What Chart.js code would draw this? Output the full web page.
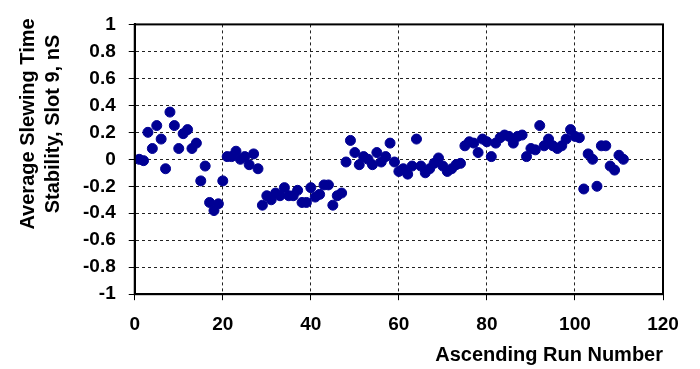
<!DOCTYPE html>
<html>
<head>
<meta charset="utf-8">
<script src="https://cdn.jsdelivr.net/npm/chart.js@4/dist/chart.umd.min.js"></script>
<style>
  body { margin: 0; background: #fff; }
  #wrap { width: 700px; height: 369px; position: relative; }
</style>
</head>
<body>
<div id="wrap"><canvas id="chart" width="700" height="369"></canvas></div>
<script>
// run number on x, stability (nS) on y
const runNumbers = [
  1, 2, 3, 4, 5, 6, 7, 8, 9, 10,
  11, 12, 13, 14, 15, 16, 17, 18, 19, 20,
  21, 22, 23, 24, 25, 26, 27, 28, 29, 30,
  31, 32, 33, 34, 35, 36, 37, 38, 39, 40,
  41, 42, 43, 44, 45, 46, 47, 48, 49, 50,
  51, 52, 53, 54, 55, 56, 57, 58, 59, 60,
  61, 62, 63, 64, 65, 66, 67, 68, 69, 70,
  71, 72, 73, 74, 75, 76, 77, 78, 79, 80,
  81, 82, 83, 84, 85, 86, 87, 88, 89, 90,
  91, 92, 93, 94, 95, 96, 97, 98, 99, 100,
  101, 102, 103, 104, 105, 106, 107, 108, 109, 110,
  111
];
const stability = [
  0, -0.01, 0.2, 0.08, 0.25, 0.15, -0.07, 0.35, 0.25, 0.08,
  0.19, 0.22, 0.08, 0.12, -0.16, -0.05, -0.32, -0.38, -0.33, -0.16,
  0.02, 0.02, 0.06, 0, 0.02, -0.04, 0.04, -0.07, -0.34, -0.27,
  -0.3, -0.25, -0.27, -0.21, -0.27, -0.27, -0.23, -0.32, -0.32, -0.21,
  -0.28, -0.26, -0.19, -0.19, -0.34, -0.27, -0.25, -0.02, 0.14, 0.05,
  -0.04, 0.02, 0, -0.04, 0.05, -0.02, 0.02, 0.12, -0.02, -0.09,
  -0.07, -0.11, -0.05, 0.15, -0.05, -0.1, -0.07, -0.03, 0.01, -0.05,
  -0.09, -0.07, -0.04, -0.03, 0.1, 0.13, 0.12, 0.05, 0.15, 0.13,
  0.02, 0.12, 0.16, 0.18, 0.17, 0.12, 0.17, 0.18, 0.02, 0.08,
  0.07, 0.25, 0.1, 0.15, 0.1, 0.08, 0.1, 0.15, 0.22, 0.17,
  0.16, -0.22, 0.04, 0, -0.2, 0.1, 0.1, -0.05, -0.08, 0.03,
  0
];
const xTicks = [0, 20, 40, 60, 80, 100, 120];
const yTicks = [-1, -0.8, -0.6, -0.4, -0.2, 0, 0.2, 0.4, 0.6, 0.8, 1];
const xTitle = "Ascending Run Number";
const yTitleLines = ["Average Slewing Time", "Stability, Slot 9, nS"];

const FONT = '"Liberation Sans", Arial, sans-serif';

const points = runNumbers.map((x, i) => ({ x, y: stability[i] }));

const frame = {
  id: "frame",
  afterDatasetsDraw(chart) {
    const { ctx, chartArea: a } = chart;
    ctx.save();
    ctx.strokeStyle = "#000";
    ctx.lineWidth = 2;
    ctx.strokeRect(a.left, a.top, a.right - a.left, a.bottom - a.top);
    ctx.restore();
  },
};

// axis titles are drawn by hand so they can sit where the original has them
const titles = {
  id: "titles",
  afterDraw(chart) {
    const { ctx, chartArea } = chart;
    ctx.save();
    ctx.fillStyle = "#000";
    ctx.font = `bold 20px ${FONT}`;
    ctx.textBaseline = "middle";

    ctx.textAlign = "right";
    ctx.fillText(xTitle, chartArea.right, 355);

    ctx.textAlign = "center";
    yTitleLines.forEach((line, i) => {
      ctx.save();
      ctx.translate(28 + i * 25, 124);
      ctx.rotate(-Math.PI / 2);
      ctx.fillText(line, 0, 0);
      ctx.restore();
    });
    ctx.restore();
  },
};

const tickFont = { family: FONT, size: 19, weight: "bold" };

new Chart(document.getElementById("chart"), {
  type: "scatter",
  data: {
    datasets: [
      {
        data: points,
        backgroundColor: "#000094",
        borderColor: "#000094",
        pointRadius: 5,
        pointHoverRadius: 5,
      },
    ],
  },
  options: {
    responsive: false,
    animation: false,
    layout: { padding: { left: 70, right: 37, top: 15, bottom: 20 } },
    plugins: {
      legend: { display: false },
      tooltip: { enabled: false },
    },
    scales: {
      x: {
        min: xTicks[0],
        max: xTicks[xTicks.length - 1],
        grid: { color: "#222", tickColor: "#000", tickLength: 6 },
        border: { color: "#000", width: 2, dash: [3, 3] },
        ticks: {
          stepSize: 20,
          color: "#000",
          font: tickFont,
          padding: 13,
          maxRotation: 0,
        },
      },
      y: {
        min: yTicks[0],
        max: yTicks[yTicks.length - 1],
        grid: { color: "#222", tickColor: "#000", tickLength: 6 },
        border: { color: "#000", width: 2, dash: [3, 3] },
        ticks: {
          stepSize: 0.2,
          color: "#000",
          font: tickFont,
          padding: 13,
          format: { minimumFractionDigits: 0, maximumFractionDigits: 1 },
        },
      },
    },
  },
  plugins: [frame, titles],
});
</script>
</body>
</html>
